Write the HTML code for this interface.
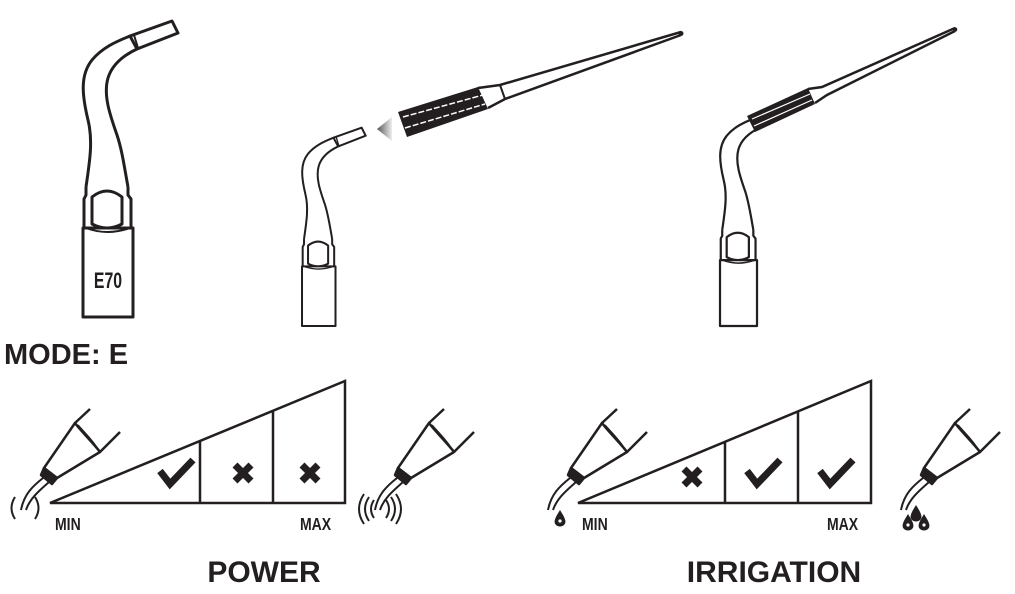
<!DOCTYPE html>
<html><head><meta charset="utf-8"><style>
html,body{margin:0;padding:0;background:#fff;width:1015px;height:594px;overflow:hidden}
svg{display:block}
text{font-family:"Liberation Sans",sans-serif;font-weight:bold;fill:#231f20}
</style></head><body>
<svg width="1015" height="594" viewBox="0 0 1015 594" xmlns="http://www.w3.org/2000/svg">
<defs>
<linearGradient id="ag" x1="0" x2="1"><stop offset="0" stop-color="#555"/><stop offset="1" stop-color="#eee"/></linearGradient>
<g id="shank" fill="none" stroke="#231f20" stroke-width="3" stroke-linejoin="round">
  <path d="M86,187 C90,160 93,140 88,120 C82,95 80,75 92,60 C102,48 115,42 130,36"/>
  <path d="M128,187 C124,165 122,150 117,135 C110,115 103,95 108,78 C112,65 122,56 137,49"/>
  <path d="M86,187 L86,195 L84,199 L84,228 M128,187 L128,195 L131,199 L131,228"/>
  <path d="M92,197 Q107,185 122,197 L122,224 Q107,232 92,224 Z"/>
  <path d="M83,228 L133,228 L133,317 L83,317 Z" fill="#fff"/>
  <path d="M86,228 Q107,236 130,228" stroke-width="2"/>
</g>
<g id="bar" fill="none" stroke="#231f20" stroke-width="3" stroke-linejoin="round">
  <path d="M130,36 L172,21 L178,33 L137,49 Z" fill="#fff"/>
  <path d="M134,35 L138,48" stroke-width="2"/>
</g>
<g id="hp" fill="none" stroke="#231f20" stroke-width="2.5" stroke-linejoin="round">
  <path d="M90,409 L75,423 M120,432 L100,452"/>
  <path d="M75,423 C80,430 95,445 100,452 L57,478 L44,468 Z" fill="#fff"/>
  <path d="M78,425 C84,432 94,442 97,448" stroke-width="1.5"/>
  <path d="M44,468 L57,478 L52,484 L41,475 Z" fill="#231f20"/>
  <path d="M43,478 C33,486 24,494 21,510 M49,482 C40,490 30,498 26,510" stroke-width="2"/>
</g>
</defs>

<use href="#shank"/>
<use href="#bar"/>
<text transform="translate(108,288) scale(0.72,1)" font-size="22" text-anchor="middle">E70</text>

<g transform="translate(246.4,113.6) scale(0.67)"><use href="#shank"/><use href="#bar"/></g>
<polygon points="377,129 392,117 392,141" fill="url(#ag)"/>
<polygon points="398,112 478,87 488,109 407,137" fill="#231f20"/>
<path d="M403,117 L483,95 M405,128 L485,104" stroke="#fff" stroke-width="1.5" fill="none" stroke-dasharray="6 2"/>
<path d="M478,88 L500,85 L681,32 M488,108 L505,99 L681,35" stroke="#231f20" stroke-width="2.5" fill="none"/>
<path d="M500,85 L505,99" stroke="#231f20" stroke-width="2" fill="none"/>
<circle cx="681" cy="33.5" r="2.5" fill="#231f20"/>

<g transform="translate(658.6,91.4) scale(0.74)"><use href="#shank"/></g>
<polygon points="747,116 808,88 815,104 755,132" fill="#231f20"/>
<path d="M752,119 L810,94 M754,126 L812,100" stroke="#fff" stroke-width="1.2" fill="none"/>
<path d="M808,89 L822,87 L955,28 M815,103 L827,95 L955,31" stroke="#231f20" stroke-width="2.5" fill="none"/>
<circle cx="955" cy="29.5" r="2.3" fill="#231f20"/>

<text x="4" y="364" font-size="29">MODE: E</text>

<g fill="none" stroke="#231f20" stroke-width="2.5">
<path d="M50,503 L345,381 L345,503 Z M200,441 L200,503 M273,411 L273,503"/>
<path d="M578,503 L871,381 L871,503 Z M725,441 L725,503 M798,411 L798,503"/>
</g>
<g fill="none" stroke="#231f20" stroke-width="7" stroke-linecap="butt" stroke-linejoin="miter">
<path d="M160,471 L170,484 L193,460"/>
<path d="M747,471 L757,484 L780,460"/>
<path d="M820,471 L830,484 L853,460"/>
</g>
<g stroke="#231f20" stroke-width="7">
<path d="M235,465 L251,481 M251,465 L235,481"/>
<path d="M302,465 L318,481 M318,465 L302,481"/>
<path d="M684,469 L700,485 M700,469 L684,485"/>
</g>
<g font-size="18">
<text transform="translate(55,530) scale(0.78,1)">MIN</text><text transform="translate(300,530) scale(0.78,1)">MAX</text>
<text transform="translate(582,530) scale(0.78,1)">MIN</text><text transform="translate(827,530) scale(0.78,1)">MAX</text>
</g>

<use href="#hp"/>
<use href="#hp" transform="translate(354,0)"/>
<use href="#hp" transform="translate(527,0)"/>
<use href="#hp" transform="translate(880,0)"/>

<g fill="none" stroke="#231f20" stroke-width="2">
<path d="M15,497 Q8,508 15,519 M35,497 Q42,508 35,519"/>
<path d="M374,500 Q368,509 374,518 M369,497 Q361,509 369,521 M364,494 Q354,509 364,524"/>
<path d="M386,500 Q392,509 386,518 M391,497 Q399,509 391,521 M396,494 Q406,509 396,524"/>
</g>
<g fill="#231f20">
<path d="M560,510 C555,518 553,522 556,525 C558,527 562,527 564,525 C567,522 565,518 560,510 Z"/>
<path d="M916,505 C911,513 909,517 912,520 C914,522 918,522 920,520 C923,517 921,513 916,505 Z"/>
<path d="M908,514 C903,522 901,526 904,529 C906,531 910,531 912,529 C915,526 913,522 908,514 Z"/>
<path d="M924,514 C919,522 917,526 920,529 C922,531 926,531 928,529 C931,526 929,522 924,514 Z"/>
</g>
<g fill="#fff"><circle cx="560" cy="521" r="1.6"/><circle cx="908" cy="525" r="1.6"/><circle cx="924" cy="525" r="1.6"/></g>

<text x="264" y="582" font-size="30" text-anchor="middle">POWER</text>
<text x="774" y="582" font-size="30" text-anchor="middle">IRRIGATION</text>
</svg>
</body></html>
